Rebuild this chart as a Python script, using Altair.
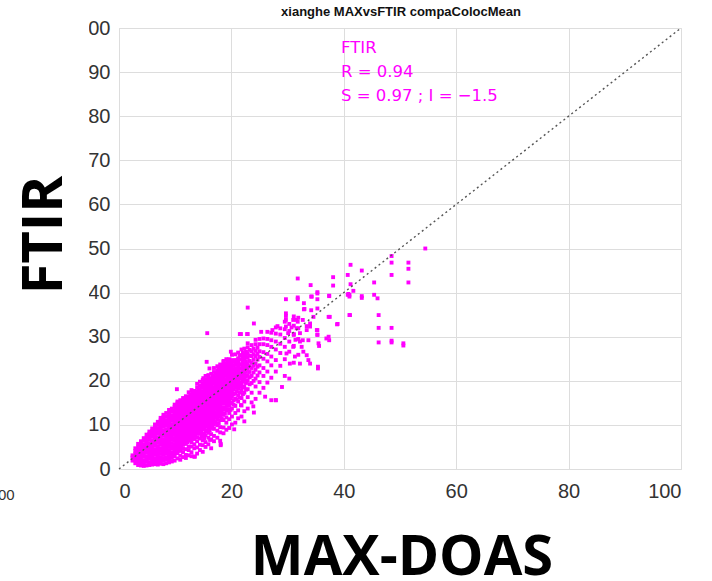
import altair as alt
import pandas as pd

# ---- dense cloud, read column by column (MAX-DOAS x, list of FTIR y) ----
col_x = [2.4, 2.9, 3.4, 3.9, 4.4, 4.9, 5.4, 5.9, 6.4, 6.9, 7.4, 7.9, 8.4, 8.9, 9.4, 9.9,
         10.4, 10.9, 11.4, 11.9, 12.4, 12.9, 13.4, 13.9, 14.4, 14.9, 15.4, 15.9, 16.4, 16.9,
         17.5, 18.0, 18.6, 19.1, 19.6, 20.1, 20.7, 21.2, 21.8, 22.3, 22.9, 23.6, 24.3, 25.0,
         25.7, 26.4, 27.1, 27.9, 28.7, 29.5, 30.3, 31.1, 31.9]
col_y = [
    [1.9, 2.6, 3.1],
    [1.3, 2.0, 2.7, 3.5, 4.1, 4.7],
    [0.9, 1.6, 2.3, 3.0, 3.8, 4.4, 5.1, 5.7],
    [0.8, 1.4, 2.2, 2.9, 3.5, 4.3, 5.0, 5.6, 6.3],
    [0.7, 1.3, 2.0, 2.8, 3.5, 4.1, 4.9, 5.6, 6.4, 7.0],
    [0.8, 1.6, 2.2, 2.9, 3.7, 4.4, 5.0, 5.8, 6.4, 7.1, 7.8],
    [0.9, 1.5, 2.3, 3.1, 3.7, 4.5, 5.2, 5.8, 6.6, 7.3, 8.0, 8.5],
    [1.0, 1.7, 2.4, 3.0, 3.8, 4.4, 5.2, 5.9, 6.5, 7.3, 8.0, 8.6, 9.2],
    [1.1, 1.8, 2.4, 3.2, 3.9, 4.5, 5.3, 6.0, 6.6, 7.4, 8.1, 8.8, 9.4, 10.1],
    [1.0, 1.6, 2.4, 3.0, 3.8, 4.5, 5.1, 5.9, 6.6, 7.2, 8.0, 8.7, 9.3, 10.1, 10.7],
    [1.2, 2.0, 2.6, 3.4, 4.1, 4.7, 5.5, 6.2, 6.8, 7.6, 8.3, 8.9, 9.7, 10.4, 11.0, 11.6],
    [1.1, 1.9, 2.5, 3.3, 4.0, 4.6, 5.4, 6.1, 6.7, 7.5, 8.2, 8.8, 9.6, 10.3, 10.9, 11.7, 12.3],
    [1.3, 2.1, 2.7, 3.5, 4.2, 4.8, 5.6, 6.3, 6.9, 7.7, 8.4, 9.0, 9.8, 10.5, 11.1, 11.9, 12.7],
    [1.5, 2.2, 2.9, 3.6, 4.3, 5.0, 5.7, 6.4, 7.1, 7.8, 8.5, 9.2, 9.9, 10.6, 11.3, 12.0, 12.7, 13.4],
    [1.7, 2.5, 3.1, 3.8, 4.6, 5.2, 5.9, 6.7, 7.3, 8.0, 8.8, 9.4, 10.1, 10.9, 11.5, 12.2, 13.0, 13.7],
    [1.9, 2.9, 3.5, 4.3, 4.9, 5.6, 6.4, 7.0, 7.8, 8.5, 9.1, 9.9, 10.6, 11.2, 12.0, 12.7, 13.3, 14.1, 14.6],
    [2.4, 3.6, 4.2, 5.0, 5.7, 6.3, 7.1, 7.8, 8.4, 9.2, 9.9, 10.5, 11.3, 12.0, 12.6, 13.4, 14.1, 14.9, 15.3],
    [2.1, 3.0, 4.1, 4.9, 5.5, 6.3, 7.0, 7.6, 8.4, 9.1, 9.7, 10.5, 11.2, 11.8, 12.6, 13.3, 13.9, 14.8, 15.6],
    [2.7, 3.8, 4.6, 5.5, 6.2, 6.8, 7.6, 8.3, 8.9, 9.7, 10.4, 11.0, 11.8, 12.5, 13.1, 13.9, 14.6, 15.3, 16.1],
    [2.5, 3.2, 4.5, 5.7, 6.5, 7.1, 7.9, 8.6, 9.2, 10.0, 10.7, 11.3, 12.1, 12.8, 13.4, 14.2, 14.9, 15.7, 16.5],
    [3.1, 4.3, 5.1, 6.4, 7.2, 7.8, 8.6, 9.3, 9.9, 10.7, 11.4, 12.0, 12.8, 13.5, 14.1, 14.9, 15.7, 16.4, 17.4],
    [2.9, 3.8, 5.1, 6.1, 6.9, 7.6, 8.4, 9.2, 9.8, 10.6, 11.3, 11.9, 12.7, 13.4, 14.0, 14.8, 15.5, 16.2, 17.0, 17.9],
    [2.8, 4.7, 5.6, 6.8, 7.6, 8.2, 9.0, 9.8, 10.4, 11.2, 11.9, 12.5, 13.3, 14.0, 14.6, 15.4, 16.1, 16.9, 17.7],
    [3.5, 4.9, 6.3, 7.2, 8.1, 8.9, 9.7, 10.4, 11.0, 11.8, 12.5, 13.1, 13.9, 14.6, 15.2, 16.0, 16.7, 17.5, 18.4, 19.3],
    [4.3, 5.5, 6.9, 8.0, 8.8, 9.5, 10.4, 11.1, 11.7, 12.5, 13.2, 13.8, 14.6, 15.3, 15.9, 16.7, 17.4, 18.1, 18.9, 19.8],
    [3.9, 5.4, 6.5, 7.7, 9.0, 9.8, 10.7, 11.3, 12.2, 12.9, 13.4, 14.3, 14.9, 15.7, 16.2, 17.1, 17.6, 18.5, 19.3, 20.2],
    [5.0, 6.1, 7.6, 8.5, 9.7, 10.4, 11.4, 12.0, 13.0, 13.5, 14.4, 15.1, 15.6, 16.5, 17.0, 17.9, 18.6, 19.4, 20.3, 21.1],
    [5.6, 7.1, 8.2, 9.5, 10.3, 11.4, 12.0, 13.0, 13.6, 14.5, 15.0, 15.9, 16.4, 17.3, 17.8, 18.8, 19.4, 20.5, 21.3],
    [4.7, 6.7, 7.9, 9.3, 10.2, 11.3, 12.0, 13.0, 13.6, 14.6, 15.2, 16.1, 16.6, 17.5, 18.0, 19.0, 19.6, 20.6, 21.6],
    [6.3, 7.5, 9.1, 10.1, 11.3, 12.1, 13.2, 13.8, 14.8, 15.4, 16.3, 16.9, 17.9, 18.5, 19.5, 20.1, 21.1, 22.0, 22.9],
    [7.1, 8.7, 9.9, 11.3, 12.2, 13.4, 14.1, 15.1, 15.7, 16.7, 17.3, 18.3, 18.9, 19.9, 20.5, 21.5, 22.4, 23.3],
    [6.4, 8.3, 9.5, 11.1, 12.1, 13.4, 14.2, 15.3, 16.0, 17.0, 17.6, 18.6, 19.2, 20.2, 20.8, 21.9, 22.8, 23.7],
    [8.1, 9.4, 11.1, 12.3, 13.5, 14.8, 15.6, 16.7, 17.4, 18.4, 19.0, 20.0, 20.7, 21.8, 22.5, 23.6, 24.5],
    [8.9, 10.5, 11.7, 13.3, 14.3, 15.6, 16.4, 17.5, 18.2, 19.3, 20.0, 21.1, 21.8, 22.9, 23.6, 24.9],
    [9.3, 11.3, 12.7, 14.3, 15.3, 16.6, 17.4, 18.5, 19.2, 20.3, 21.0, 22.1, 22.8, 24.0, 24.9],
    [10.1, 11.9, 13.7, 14.9, 16.4, 17.3, 18.5, 19.2, 20.3, 21.0, 22.1, 22.8, 23.9, 24.7, 25.9],
    [10.5, 12.7, 14.3, 16.0, 17.1, 18.4, 19.2, 20.3, 21.0, 22.1, 22.8, 23.9, 24.7, 26.0],
    [11.5, 13.3, 15.3, 16.7, 18.2, 19.1, 20.3, 21.1, 22.3, 23.0, 24.3, 25.1, 26.4],
    [11.9, 14.4, 16.1, 17.9, 19.1, 20.5, 21.4, 22.7, 23.6, 24.9, 25.8, 27.1],
    [13.1, 15.3, 17.3, 18.7, 20.3, 21.4, 22.8, 23.7, 25.0, 25.9, 27.3],
    [13.7, 16.3, 18.1, 20.0, 21.3, 22.8, 23.8, 25.2, 26.2, 27.6, 28.5],
    [15.1, 17.3, 19.5, 21.1, 22.9, 24.1, 25.6, 26.7, 28.1],
    [15.9, 18.7, 20.5, 22.5, 23.9, 25.6, 26.8, 28.3, 29.3],
    [17.3, 19.7, 21.9, 23.5, 25.4, 26.7, 28.3, 29.5],
    [18.4, 21.1, 22.9, 25.0, 26.5, 28.3, 29.6],
    [19.6, 22.1, 24.4, 26.1, 28.1, 29.5, 31.1],
    [20.7, 23.5, 25.5, 27.7, 29.2, 30.9],
    [15.6, 22.1, 24.7, 27.1, 28.9, 30.7, 32.1],
    [23.4, 26.3, 28.4, 30.5, 31.9],
    [21.1, 24.9, 27.7, 29.7, 31.7, 33.4],
    [20.5, 26.6, 28.9, 31.3, 32.9],
    [24.1, 27.9, 30.6, 32.5, 34.6],
    [25.9, 29.5, 31.9, 34.3],
]

# ---- extra columns in the solid middle of the cloud ----
fill_x = [10.15, 10.65, 11.15, 11.65, 12.15, 12.65, 13.15, 13.65, 14.15, 14.65, 15.15, 15.65,
          16.15, 16.65, 17.2, 17.75, 18.3, 18.85, 19.35, 19.85, 20.4, 20.95, 21.5, 22.05,
          22.6, 23.25, 23.95, 24.65]
fill_y = [
    [4.5, 5.3, 6.0, 6.7, 7.4, 8.1, 8.8, 9.5, 10.2, 10.9, 11.6, 12.3, 13.0, 13.7],
    [4.6, 5.4, 6.1, 6.8, 7.5, 8.2, 8.9, 9.6, 10.3, 11.0, 11.7, 12.4, 13.1, 13.8, 14.5],
    [5.1, 5.9, 6.6, 7.3, 8.0, 8.7, 9.4, 10.1, 10.8, 11.5, 12.2, 12.9, 13.6, 14.3, 15.0],
    [5.8, 6.5, 7.2, 7.9, 8.6, 9.3, 10.0, 10.7, 11.4, 12.1, 12.8, 13.5, 14.2, 14.9, 15.6],
    [6.1, 6.8, 7.5, 8.2, 8.9, 9.6, 10.3, 11.0, 11.7, 12.4, 13.1, 13.8, 14.5, 15.2, 15.9],
    [6.7, 7.4, 8.1, 8.8, 9.5, 10.2, 10.9, 11.6, 12.3, 13.0, 13.7, 14.4, 15.1, 15.8, 16.6],
    [7.2, 7.9, 8.6, 9.3, 10.0, 10.7, 11.4, 12.1, 12.8, 13.5, 14.2, 14.9, 15.6, 16.4, 17.2],
    [7.8, 8.5, 9.2, 9.9, 10.6, 11.3, 12.0, 12.7, 13.4, 14.1, 14.8, 15.5, 16.2, 17.0],
    [8.4, 9.2, 9.9, 10.6, 11.3, 12.0, 12.7, 13.4, 14.1, 14.8, 15.5, 16.2, 16.9, 17.7],
    [7.3, 8.4, 9.2, 10.0, 10.8, 11.5, 12.2, 13.0, 13.6, 14.4, 15.2, 16.0, 16.8, 17.6, 18.6],
    [7.0, 8.0, 9.2, 10.1, 11.0, 11.8, 12.5, 13.2, 14.0, 14.7, 15.4, 16.0, 16.8, 17.5, 18.2, 19.0, 19.8],
    [8.8, 9.9, 10.9, 11.7, 12.5, 13.3, 14.0, 14.8, 15.4, 16.2, 16.8, 17.6, 18.3, 19.0, 20.0],
    [8.8, 10.0, 10.9, 11.8, 12.6, 13.3, 14.1, 14.8, 15.5, 16.2, 16.9, 17.6, 18.3, 19.1, 20.0],
    [9.8, 10.8, 11.7, 12.6, 13.3, 14.1, 14.9, 15.7, 16.4, 17.1, 17.8, 18.5, 19.3, 20.2, 21.0],
    [10.6, 11.8, 12.7, 13.7, 14.5, 15.3, 16.1, 16.9, 17.7, 18.5, 19.2, 20.0, 20.8, 21.7],
    [10.4, 11.9, 12.8, 13.8, 14.7, 15.6, 16.4, 17.2, 18.0, 18.8, 19.6, 20.4, 21.2, 22.1, 23.0],
    [11.5, 12.9, 13.9, 14.8, 15.7, 16.5, 17.3, 18.1, 18.9, 19.7, 20.5, 21.3, 22.2, 23.1],
    [12.6, 13.9, 15.1, 16.1, 17.0, 17.8, 18.6, 19.4, 20.3, 21.2, 22.1, 23.0, 24.0],
    [13.5, 14.8, 16.0, 17.0, 17.9, 18.8, 19.7, 20.6, 21.5, 22.4, 23.3, 24.3],
    [13.4, 15.0, 16.0, 17.0, 18.0, 18.9, 19.8, 20.7, 21.6, 22.5, 23.4, 24.3],
    [14.6, 15.6, 17.0, 18.0, 18.9, 19.8, 20.7, 21.6, 22.5, 23.4, 24.4],
    [15.8, 17.6, 18.7, 19.7, 20.7, 21.6, 22.6, 23.6, 24.6],
    [16.2, 17.3, 18.7, 19.7, 20.8, 21.8, 22.8, 23.8, 24.8, 25.8],
    [17.0, 18.5, 19.8, 21.0, 22.1, 23.2, 24.3, 25.4, 26.4],
    [18.0, 19.5, 20.9, 22.1, 23.2, 24.3, 25.5, 26.6],
    [19.2, 20.8, 22.0, 23.3, 24.5, 25.7, 27.0],
    [20.0, 21.9, 23.4, 24.8, 26.0, 27.3],
    [21.2, 23.2, 24.8, 26.1, 27.5],
]

# ---- scattered points outside the dense cloud ----
sparse_x = [15.7, 21.7, 22.9, 25.3, 22.9, 19.9, 15.6, 16.1, 18.6, 17.7, 10.3, 15.0, 28.2, 27.3,
            27.1, 27.9, 21.7, 23.9, 24.0, 18.1, 18.1, 13.5, 16.2, 20.5, 22.3, 26.0, 29.0,
            29.7, 31.8, 31.8, 32.9, 32.9, 29.7, 31.0, 31.8, 29.7, 30.7, 31.6, 30.1, 31.1,
            32.2, 33.4, 34.0, 35.2, 35.3, 33.7, 32.2, 32.5, 31.0, 32.8, 35.5, 35.6, 37.3,
            37.4, 29.8, 31.3, 33.4, 33.7, 30.4, 32.2, 34.0, 35.4, 35.4, 37.5, 37.4, 34.3,
            35.3, 35.3, 34.1, 38.1, 38.1, 40.8, 41.0, 38.9, 41.1, 34.6, 34.2, 35.3, 33.0,
            34.2, 35.3, 37.3, 38.8, 37.4, 29.7, 29.7, 31.6, 32.7, 34.0, 33.4, 35.3, 35.3,
            36.9, 31.4, 32.7, 21.5, 22.8, 54.5, 48.5, 48.5, 51.5, 51.5, 48.5, 51.5, 41.2,
            43.2, 40.7, 41.2, 41.7, 45.4, 40.7, 41.0, 43.2, 43.2, 45.4, 46.0, 41.0, 46.2,
            46.2, 48.5, 46.2, 48.5, 48.5, 50.6, 50.6, 31.8, 24.0]
sparse_y = [30.8, 30.6, 30.6, 31.1, 36.6, 26.6, 24.3, 22.8, 24.3, 22.2, 18.1, 20.6, 32.4, 31.5,
            15.6, 15.6, 14.5, 14.2, 12.8, 5.7, 5.4, 2.8, 6.6, 9.0, 10.8, 16.4, 18.6,
            38.5, 38.9, 38.5, 37.6, 36.2, 33.8, 33.8, 33.4, 32.3, 32.1, 31.9, 30.8, 30.4,
            30.8, 31.5, 32.3, 31.5, 30.4, 29.2, 28.9, 27.7, 27.7, 26.6, 28.5, 27.9, 30.0,
            29.2, 26.2, 25.5, 25.8, 24.7, 23.9, 23.9, 23.9, 23.2, 22.8, 34.5, 39.2, 39.1,
            40.1, 38.5, 41.7, 43.5, 41.6, 39.7, 39.1, 32.9, 34.9, 34.5, 39.1, 39.8, 36.3,
            36.0, 36.4, 34.5, 32.8, 39.3, 35.3, 34.7, 33.8, 33.8, 33.0, 32.4, 31.5, 30.5,
            29.6, 29.3, 29.2, 30.6, 30.6, 50.0, 48.3, 46.8, 46.8, 45.4, 44.0, 42.3, 46.3,
            45.0, 44.0, 41.9, 40.4, 42.3, 39.5, 39.5, 39.2, 38.8, 39.5, 38.7, 34.9, 34.9,
            32.0, 32.0, 28.7, 29.1, 28.7, 28.5, 28.0, 43.2, 33.0]

# ---- annotation / labels ----
title_text = ["xianghe MAXvsFTIR compaColocMean"]
annot_text = ["FTIR", "R = 0.94", "S = 0.97 ; I = \u22121.5"]
annot_x = [39.5, 39.5, 39.5]
annot_y = [95.5, 90.0, 84.5]
x_ticks = [0, 20, 40, 60, 80, 100]
y_ticks = [0, 10, 20, 30, 40, 50, 60, 70, 80, 90, 100]
diag_x = [0, 100]
diag_y = [0, 100]

rows = []
for cx, ys in list(zip(col_x, col_y)) + list(zip(fill_x, fill_y)):
    for yv in ys:
        rows.append({"MAX": cx, "FTIR": yv})
for sx, sy in zip(sparse_x, sparse_y):
    rows.append({"MAX": sx, "FTIR": sy})
pts = pd.DataFrame(rows)

MAG = "#ff00ff"
FONT = "Liberation Sans"

xs = alt.Scale(domain=[0, 100], nice=False, zero=False)
ys_ = alt.Scale(domain=[0, 100], nice=False, zero=False)

x_axis = alt.Axis(values=x_ticks, title=None, grid=True, ticks=False, domain=False,
                  labelFontSize=20, labelColor="#333", labelFont=FONT, labelPadding=12)
y_axis = alt.Axis(values=y_ticks, title=None, grid=True, ticks=False, domain=False,
                  labelFontSize=20, labelColor="#333", labelFont=FONT, labelPadding=9)

points = alt.Chart(pts).mark_square(size=15, color=MAG, opacity=1).encode(
    x=alt.X("MAX:Q", scale=xs, axis=x_axis),
    y=alt.Y("FTIR:Q", scale=ys_, axis=y_axis),
)

diag = alt.Chart(pd.DataFrame({"MAX": diag_x, "FTIR": diag_y})).mark_line(
    color="#555", strokeWidth=1.4, strokeDash=[2, 3]
).encode(x=alt.X("MAX:Q", scale=xs), y=alt.Y("FTIR:Q", scale=ys_))

annot = alt.Chart(pd.DataFrame({"t": annot_text, "x": annot_x, "y": annot_y})).mark_text(
    color=MAG, fontSize=16.5, font="DejaVu Sans", align="left", baseline="middle"
).encode(x=alt.X("x:Q", scale=xs), y=alt.Y("y:Q", scale=ys_), text="t:N")

title = alt.Chart(pd.DataFrame({"t": title_text})).mark_text(
    fontSize=13, font=FONT, fontWeight="bold", color="#111",
    align="center", baseline="middle"
).encode(x=alt.value(282), y=alt.value(-16), text="t:N")

# white cover that clips the left part of the y tick labels, as in the source figure
cover = alt.Chart(pd.DataFrame({"c": [0]})).mark_rect(color="white").encode(
    x=alt.value(-125), x2=alt.value(-30), y=alt.value(-12), y2=alt.value(441)
)

ylab = alt.Chart(pd.DataFrame({"t": ["FTIR"]})).mark_text(
    fontSize=56, font="Open Sans", fontWeight="bold", color="#000", angle=270,
    align="center", baseline="middle"
).encode(x=alt.value(-74), y=alt.value(207), text="t:N")

xlab = alt.Chart(pd.DataFrame({"t": ["MAX-DOAS"]})).mark_text(
    fontSize=56, font="Open Sans", fontWeight="bold", color="#000",
    align="center", baseline="middle"
).encode(x=alt.value(283), y=alt.value(530), text="t:N")

stray = alt.Chart(pd.DataFrame({"t": ["00"]})).mark_text(
    fontSize=15, font=FONT, color="#333", align="left", baseline="middle"
).encode(x=alt.value(-121), y=alt.value(467), text="t:N")

chart = alt.layer(points, diag, annot, title, cover, ylab, xlab, stray).properties(
    width=562, height=441,
    autosize=alt.AutoSizeParams(type="none"),
    padding={"left": 119, "top": 28, "right": 31, "bottom": 112},
).configure_view(
    stroke="#777", strokeWidth=1.5
).configure_axis(
    gridColor="#e6e6e6", gridWidth=1
).configure(background="white")

chart.save("out.html", embed_options={"renderer": "svg", "actions": False})
